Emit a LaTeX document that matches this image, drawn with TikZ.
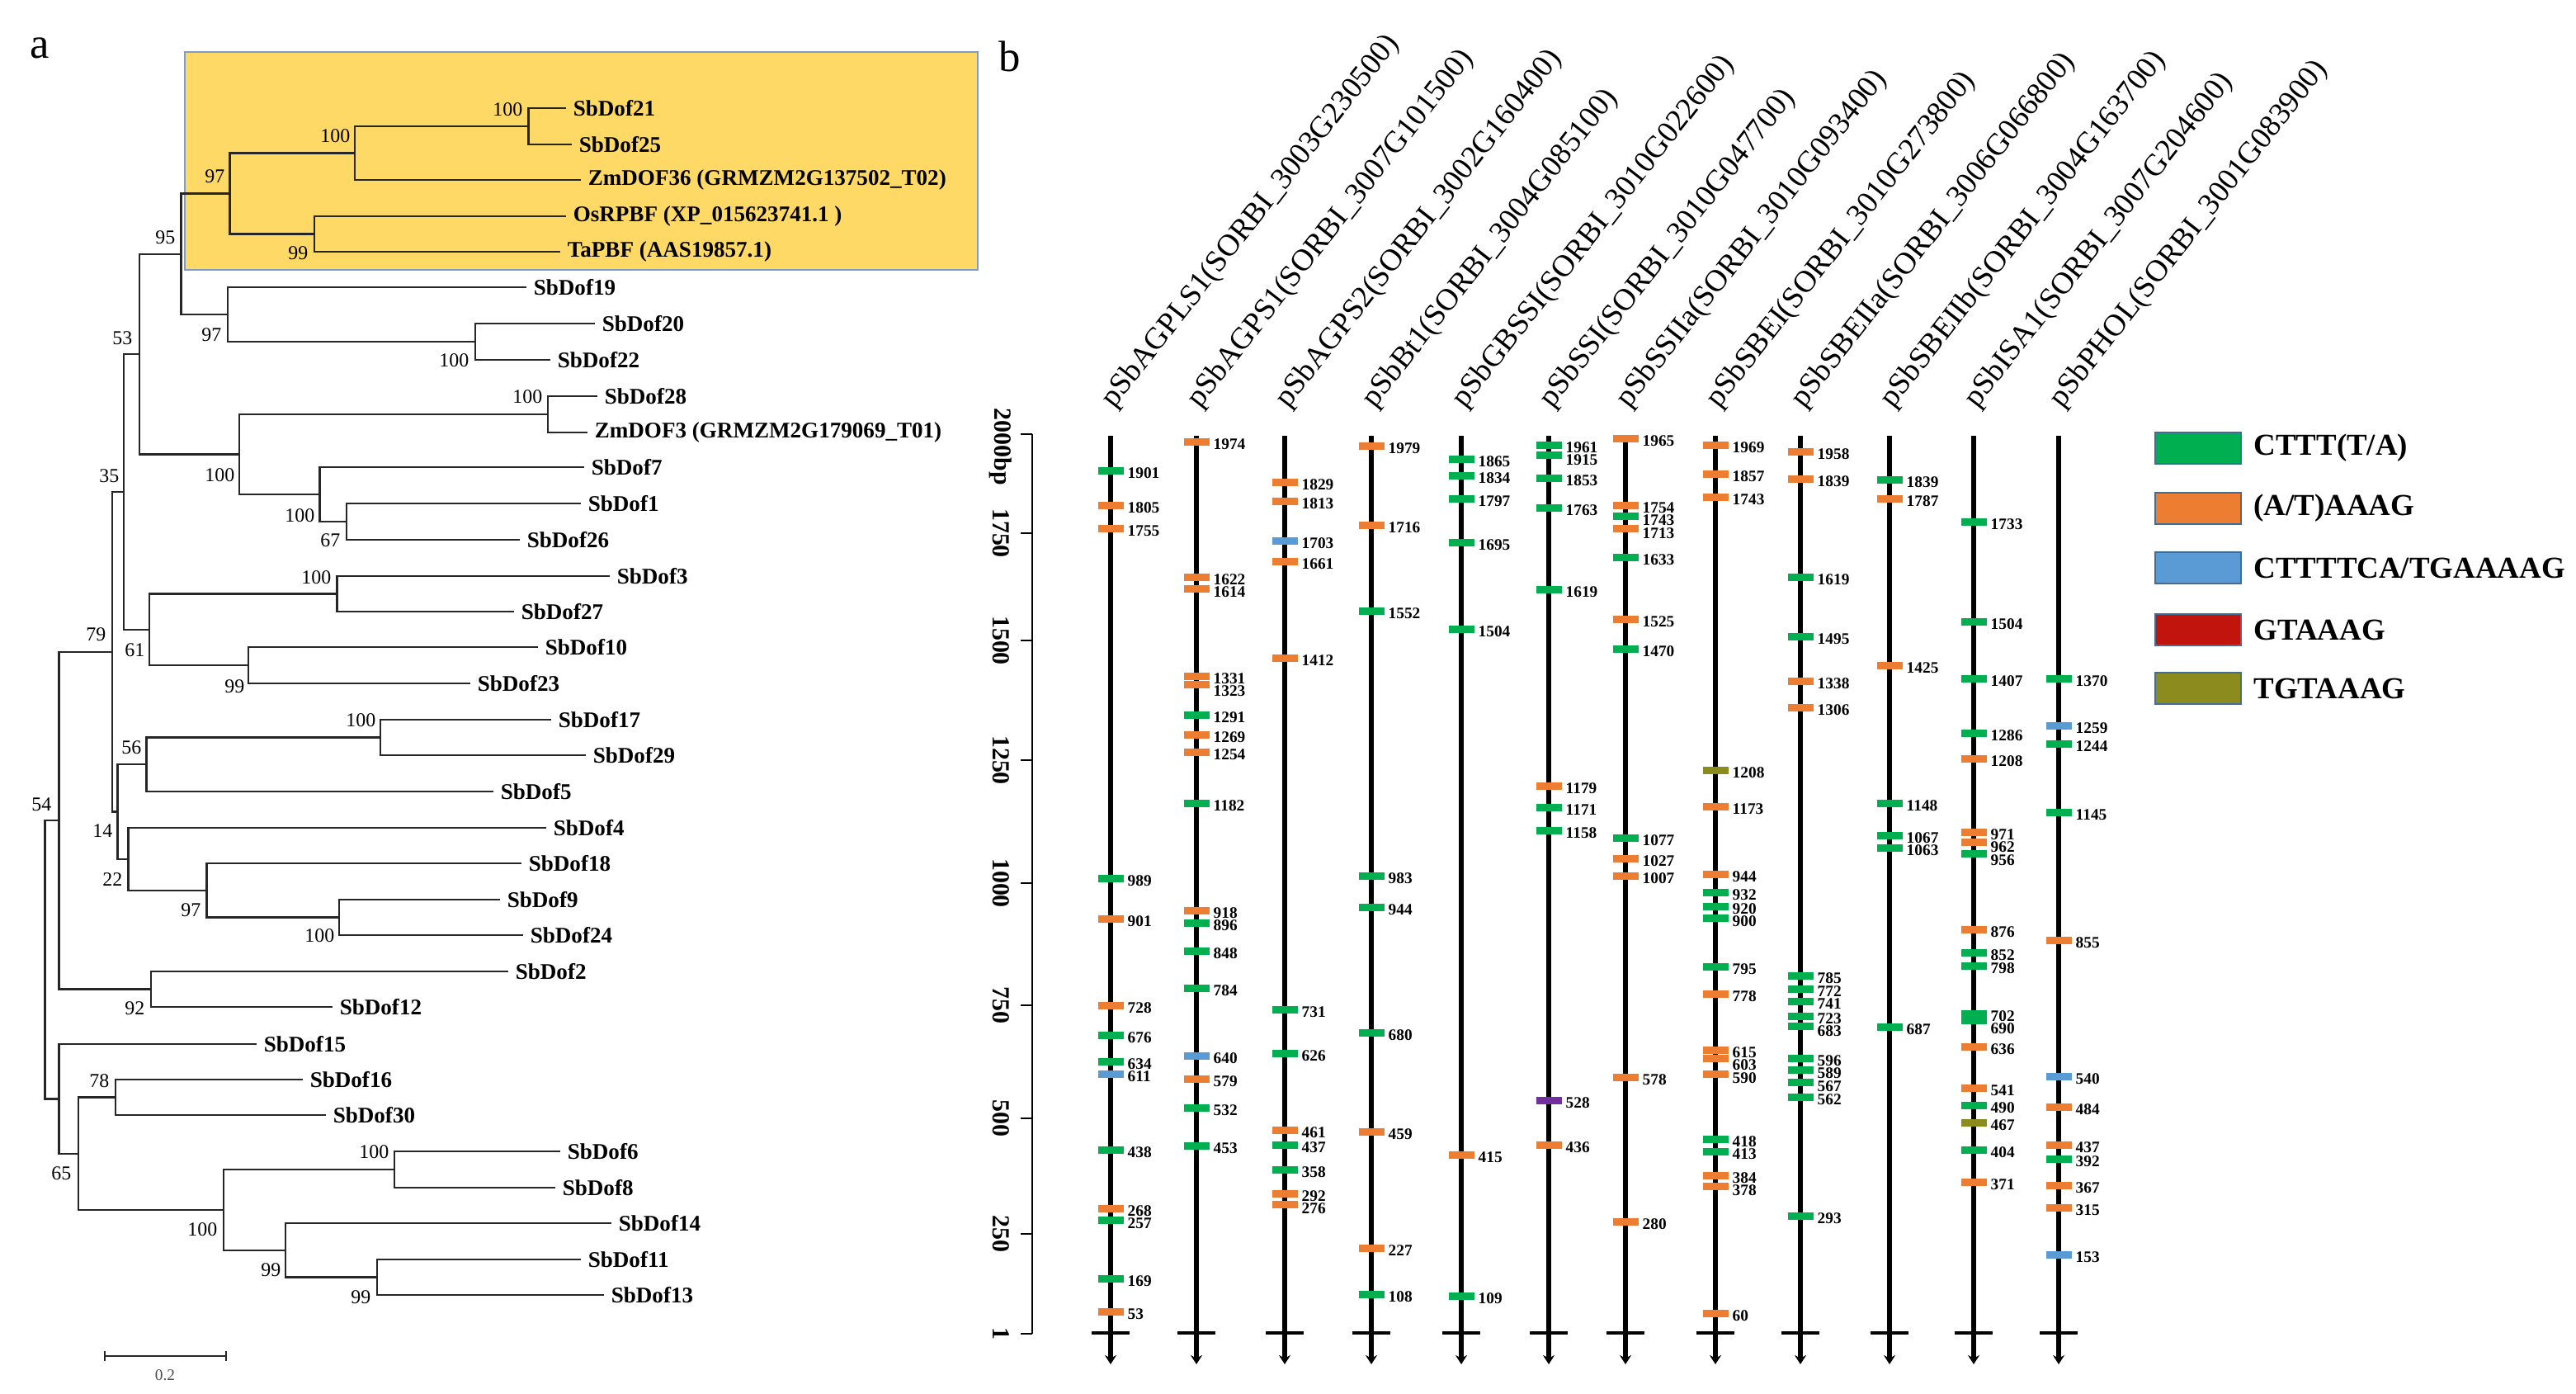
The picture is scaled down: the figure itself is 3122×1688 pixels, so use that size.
\documentclass[tikz,border=0pt]{standalone}
\usepackage{fontspec}
\setmainfont{Liberation Serif}
\usetikzlibrary{arrows.meta}
\usetikzlibrary{positioning}
\definecolor{cg}{HTML}{00B050}
\definecolor{co}{HTML}{ED7D31}
\definecolor{cb}{HTML}{5B9BD5}
\definecolor{cr}{HTML}{C0140C}
\definecolor{cv}{HTML}{8C8C1E}
\definecolor{cp}{HTML}{7030A0}
\definecolor{boxfill}{HTML}{FFD966}
\definecolor{boxline}{HTML}{7F9CC4}
\tikzset{branch/.style = {line width = 0.65pt, black!85}}
\tikzset{leaf/.style = {anchor = west, inner xsep = 2.3pt, inner ysep = 0, font = \fontsize{7.7}{9}\selectfont\bfseries}}
\tikzset{boot/.style = {anchor = east, inner sep = 0, font = \fontsize{6.8}{8}\selectfont}}
\tikzset{panel/.style = {anchor = base west, inner sep = 0, font = \fontsize{15}{18}\selectfont}}
\tikzset{axisline/.style = {line width = 0.6pt}}
\tikzset{axlab/.style = {rotate = -90, inner sep = 0, font = \fontsize{8.5}{10}\selectfont\bfseries}}
\tikzset{promline/.style = {line width = 1.7pt, -{Stealth[length = 1.1mm, width = 1.4mm]}}}
\tikzset{crossbar/.style = {line width = 1.1pt}}
\tikzset{motlab/.style = {anchor = west, inner sep = 0, font = \fontsize{5.5}{6}\selectfont\bfseries}}
\tikzset{genelab/.style = {rotate = 52, anchor = base west, inner sep = 0, font = \fontsize{10.6}{12}\selectfont}}
\tikzset{legbox/.style = {draw = cb!70!black, line width = 0.4pt, minimum width = 1.04cm, minimum height = 0.38cm, inner sep = 0}}
\tikzset{legtext/.style = {anchor = west, inner sep = 0, font = \fontsize{10.5}{12}\selectfont\bfseries}}

\begin{document}
\begin{tikzpicture}[x = 0.01cm, y = -0.01cm]
  \fill[white] (0,0) rectangle (3122,1688);
  \useasboundingbox (0,0) rectangle (3122,1688);

  % a: tree
  \node[panel] (pa) at (36,71) {a};
  \draw[draw = boxline, fill = boxfill, line width = 0.5pt] (224,63) rectangle (1185,327);
  \foreach \nm/\x/\y/\txt in {t21/686/131/SbDof21, t25/693/175/SbDof25,
      z36/704/218/{ZmDOF36 (GRMZM2G137502\_T02)}, os/686/262/{OsRPBF (XP\_015623741.1 )},
      ta/679/305/{TaPBF (AAS19857.1)}, t19/638/348/SbDof19, t20/721/392/SbDof20,
      t22/667/436/SbDof22, t28/724/480/SbDof28, z3/712/524/{ZmDOF3 (GRMZM2G179069\_T01)},
      t7/708/566/SbDof7, t1/704/610/SbDof1, t26/630/654/SbDof26, t3/739/698/SbDof3,
      t27/623/741/SbDof27, t10/652/784/SbDof10, t23/570/828/SbDof23, t17/668/872/SbDof17,
      t29/710/915/SbDof29, t5/598/959/SbDof5, t4/662/1003/SbDof4, t18/632/1046/SbDof18,
      t9/606/1090/SbDof9, t24/634/1133/SbDof24, t2/616/1177/SbDof2, t12/403/1220/SbDof12,
      t15/311/1265/SbDof15, t16/367/1308/SbDof16, t30/395/1351/SbDof30, t6/679/1395/SbDof6,
      t8/673/1439/SbDof8, t14/741/1482/SbDof14, t11/704/1526/SbDof11, t13/732/1569/SbDof13}
    \node[leaf] (\nm) at (\x,\y) {\txt};
  \foreach \nm/\x/\y in {n2125/640.5/153, n36/430/185.5, nosta/381/283.5, n97a/278.6/234.5,
      n2022/576/414, n19/276/381, n95/219.5/308, n28/664/502, n126/420/632, n7/387.5/599,
      n100b/290/550.5, n53/169/429, n327/408.6/719.5, n1023/301/806, n61/181/763, n35/150/596,
      n1729/460.7/893.5, n56/177.4/926, n924/411/1111.5, n97b/250.6/1079, n22/155.6/1041,
      n14/142.4/983.5, n79/136/790, n92/183/1198.5, n7992/71.6/994, n1630/140/1329.5,
      n68/478/1417, n1113/456.8/1547.5, n99a/346.3/1515, n100c/270.8/1466, n65/95/1398,
      n15/71.6/1331.5, root/54.5/1163}
    \coordinate (\nm) at (\x,\y);
  \foreach \p/\ch in {n2125/t21, n2125/t25, n36/n2125, n36/z36, nosta/os, nosta/ta,
      n97a/n36, n97a/nosta, n2022/t20, n2022/t22, n19/t19, n19/n2022, n95/n97a, n95/n19,
      n28/t28, n28/z3, n126/t1, n126/t26, n7/t7, n7/n126, n100b/n28, n100b/n7, n53/n95,
      n53/n100b, n327/t3, n327/t27, n1023/t10, n1023/t23, n61/n327, n61/n1023, n35/n53,
      n35/n61, n1729/t17, n1729/t29, n56/n1729, n56/t5, n924/t9, n924/t24, n97b/t18,
      n97b/n924, n22/t4, n22/n97b, n14/n56, n14/n22, n79/n35, n79/n14, n92/t2, n92/t12,
      n7992/n79, n7992/n92, n1630/t16, n1630/t30, n68/t6, n68/t8, n1113/t11, n1113/t13,
      n99a/t14, n99a/n1113, n100c/n68, n100c/n99a, n65/n1630, n65/n100c, n15/t15, n15/n65,
      root/n7992, root/n15}
    \draw[branch] (\p) |- (\ch);
  \foreach \x/\y/\v [count = \i] in {634/133/100, 425/165/100, 273/214/97, 374/307/99,
      213/288/95, 269/406/97, 569/437/100, 658/481/100, 161/410/53, 285/576/100, 145/577/35,
      382/625/100, 413/655/67, 402/700/100, 129/769/79, 176/788/61, 297/832/99, 456/873/100,
      172/906/56, 63/975/54, 137/1007/14, 149/1066/22, 244/1103/97, 406/1134/100, 176/1222/92,
      133/1310/78, 472/1396/100, 87/1422/65, 264/1490/100, 341/1539/99, 450/1572/99}
    \node[boot] (bs\i) at (\x,\y) {\v};
  \coordinate (sb1) at (127,1643);
  \coordinate (sb2) at (274,1643);
  \draw[branch, line width = 0.45pt] (sb1) -- (sb2);
  \draw[branch, line width = 0.45pt] ([yshift = 0.06cm] sb1) -- ([yshift = -0.06cm] sb1);
  \draw[branch, line width = 0.45pt] ([yshift = 0.06cm] sb2) -- ([yshift = -0.06cm] sb2);
  \node[inner sep = 0, black!70, font = \fontsize{5.5}{6}\selectfont] (sbl) at (200,1666) {0.2};

  % b: promoters
  \node[panel] (pb) at (1210,87) {b};
  \draw[axisline] (1251,526) -- (1251,1616);
  \draw[axisline] (1237,526) -- (1251,526);
  \node[axlab, anchor = west] (ax2000) at (1213,494) {2000bp};
  \foreach \y/\v in {646/1750, 776/1500, 921/1250, 1070/1000, 1218/750, 1355/500, 1495/250, 1616/1}{
    \draw[axisline] (1237,\y) -- (1251,\y);
    \node[axlab] (ax\v) at (1213,\y) {\v};
  }
  \foreach \cx/\gene/\lst in {
    1346/{pSbAGPLS1(SORBI\_3003G230500)}/{570/cg/1901, 612/co/1805, 640/co/1755, 1064/cg/989,
      1113/co/901, 1218/co/728, 1254/cg/676, 1286/cg/634, 1301/cb/611, 1393/cg/438,
      1464/co/268, 1478/cg/257, 1549/cg/169, 1589/co/53},
    1450/{pSbAGPS1(SORBI\_3007G101500)}/{535/co/1974, 699/co/1622, 713/co/1614, 819/co/1331,
      829/co/1323, 866/cg/1291, 890/co/1269, 911/co/1254, 973/cg/1182, 1103/co/918,
      1118/cg/896, 1152/cg/848, 1197/cg/784, 1279/cb/640, 1307/co/579, 1342/cg/532, 1388/cg/453},
    1557/{pSbAGPS2(SORBI\_3002G160400)}/{584/co/1829, 607/co/1813, 655/cb/1703, 680/co/1661,
      797/co/1412, 1223/cg/731, 1276/cg/626, 1369/co/461, 1387/cg/437, 1417/cg/358,
      1446/co/292, 1459/co/276},
    1662/{pSbBt1(SORBI\_3004G085100)}/{540/co/1979, 636/co/1716, 740/cg/1552, 1061/cg/983,
      1099/cg/944, 1251/cg/680, 1371/co/459, 1512/co/227, 1568/cg/108},
    1771/{pSbGBSSI(SORBI\_3010G022600)}/{556/cg/1865, 576/cg/1834, 604/cg/1797, 657/cg/1695,
      762/cg/1504, 1399/co/415, 1570/cg/109},
    1877/{pSbSSI(SORBI\_3010G047700)}/{539/cg/1961, 551/cg/1915, 579/cg/1853, 615/cg/1763,
      714/cg/1619, 952/co/1179, 978/cg/1171, 1006/cg/1158, 1333/cp/528, 1387/co/436},
    1970/{pSbSSIIa(SORBI\_3010G093400)}/{531/co/1965, 612/co/1754, 625/cg/1743, 640/co/1713,
      675/cg/1633, 750/co/1525, 786/cg/1470, 1015/cg/1077, 1040/co/1027, 1061/co/1007,
      1305/co/578, 1480/co/280},
    2079/{pSbSBEI(SORBI\_3010G273800)}/{539/co/1969, 574/co/1857, 602/co/1743, 933/cv/1208,
      977/co/1173, 1059/co/944, 1081/cg/932, 1098/cg/920, 1112/cg/900, 1171/cg/795,
      1204/co/778, 1272/co/615, 1282/co/603, 1301/co/590, 1380/cg/418, 1395/cg/413,
      1424/co/384, 1437/co/378, 1591/co/60},
    2182/{pSbSBEIIa(SORBI\_3006G066800)}/{547/co/1958, 580/co/1839, 699/cg/1619, 771/cg/1495,
      825/co/1338, 857/co/1306, 1182/cg/785, 1198/cg/772, 1213/cg/741, 1231/cg/723,
      1243/cg/683, 1282/cg/596, 1296/cg/589, 1311/cg/567, 1329/cg/562, 1473/cg/293},
    2290/{pSbSBEIIb(SORBI\_3004G163700)}/{581/cg/1839, 604/co/1787, 806/co/1425, 973/cg/1148,
      1012/cg/1067, 1027/cg/1063, 1244/cg/687},
    2392/{pSbISA1(SORBI\_3007G204600)}/{632/cg/1733, 753/cg/1504, 822/cg/1407, 888/cg/1286,
      919/co/1208, 1008/co/971, 1020/co/962, 1034/cg/956, 1126/co/876, 1154/cg/852,
      1170/cg/798, 1228/cg/702, 1236/cg/690, 1268/co/636, 1318/co/541, 1339/cg/490,
      1360/cv/467, 1393/cg/404, 1432/co/371},
    2495/{pSbPHOL(SORBI\_3001G083900)}/{822/cg/1370, 879/cb/1259, 901/cg/1244, 984/cg/1145,
      1139/co/855, 1304/cb/540, 1341/co/484, 1387/co/437, 1404/cg/392, 1436/co/367,
      1463/co/315, 1520/cb/153}}{
    \gdef\lastly{0}
    \node[genelab] (g\cx) at (\cx+4,496) {\gene};
    \draw[promline] (\cx,528) -- (\cx,1653);
    \draw[crossbar] (\cx-23,1615) -- (\cx+23,1615);
    \foreach \y/\col/\lab in \lst {
      \pgfmathsetmacro\ly{max(\y+3,\lastly+15.5)}
      \xdef\lastly{\ly}
      \fill[\col] (\cx-15.5,\y-4.5) rectangle (\cx+15.5,\y+4.5);
      \node[motlab] (m\cx-\lab) at (\cx+20,\ly) {\lab};
    }
  }

  % legend
  \foreach \y/\col/\lab [count = \i] in {543/cg/{CTTT(T/A)}, 616/co/{(A/T)AAAG},
      688/cb/{CTTTTCA/TGAAAAG}, 763/cr/{GTAAAG}, 834/cv/{TGTAAAG}}{
    \node[legbox, fill = \col] (key\i) at (2664,\y) {};
    \node[legtext, right = 0.14cm of key\i] (keytext\i) {\lab};
  }
\end{tikzpicture}
\end{document}
